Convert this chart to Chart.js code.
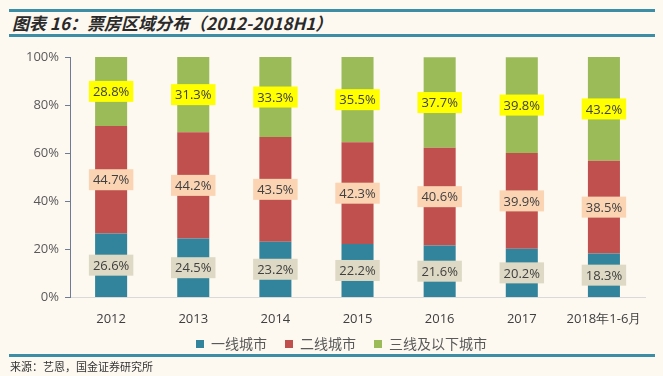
<!DOCTYPE html>
<html>
<head>
<meta charset="utf-8">
<script src="https://cdn.jsdelivr.net/npm/chart.js@4/dist/chart.umd.min.js"></script>
<style>
  html, body { margin: 0; padding: 0; background: #fdf9f1; }
  body { width: 663px; height: 376px; position: relative; overflow: hidden; font-family: "Noto Sans CJK SC", sans-serif; }
  .line { position: absolute; left: 9px; width: 646px; height: 3px; background: #3b8ea5; }
  #title { position: absolute; left: 12px; top: 10px; font-size: 17px; font-weight: bold; font-style: italic; color: #2a2a2a; }
  #source { position: absolute; left: 10px; top: 358px; font-size: 11px; color: #333; }
  #wrap { position: absolute; left: 0; top: 38px; width: 663px; height: 346px; }
</style>
</head>
<body>
<div id="wrap"><canvas id="myChart" width="663" height="346"></canvas></div>
<div class="line" style="top:9px"></div>
<div id="title">图表 16：票房区域分布（2012-2018H1）</div>
<div class="line" style="top:34px"></div>
<div class="line" style="top:354px"></div>
<div id="source">来源：艺恩，国金证券研究所</div>
<script>
// data
const categories = ['2012', '2013', '2014', '2015', '2016', '2017', '2018年1-6月'];
const tier1 = [26.6, 24.5, 23.2, 22.2, 21.6, 20.2, 18.3];
const tier2 = [44.7, 44.2, 43.5, 42.3, 40.6, 39.9, 38.5];
const tier3 = [28.8, 31.3, 33.3, 35.5, 37.7, 39.8, 43.2];
const series_names = ['一线城市', '二线城市', '三线及以下城市'];

const bar_colors = ['#31849b', '#c0504d', '#9bbb59'];
const label_bg = ['#ddd9c4', '#fbd4b4', '#ffff00'];

// boxed value labels in the middle of each segment
const box_labels = {
    id: 'box_labels',
    afterLayout(chart) {
        // pull the legend up closer to the category labels, a bit right
        chart.legend.top -= 22;
        chart.legend.bottom -= 22;
        chart.legend.left += 9;
        chart.legend.right += 9;
    },
    afterDatasetsDraw(chart) {
        const ctx = chart.ctx;
        ctx.save();
        ctx.font = '13px "Open Sans", sans-serif';
        ctx.textAlign = 'center';
        ctx.textBaseline = 'middle';
        chart.data.datasets.forEach(function (ds, i) {
            const meta = chart.getDatasetMeta(i);
            meta.data.forEach(function (el, j) {
                const txt = ds.data[j].toFixed(1) + '%';
                const cy = (el.y + el.base) / 2;
                const w = ctx.measureText(txt).width + 8;
                const h = 21;
                ctx.fillStyle = label_bg[i];
                ctx.fillRect(el.x - w / 2, cy - h / 2, w, h);
                ctx.fillStyle = '#404040';
                ctx.fillText(txt, el.x, cy + 1);
            });
        });
        ctx.restore();
    }
};

const ctx = document.getElementById('myChart').getContext('2d');
const myChart = new Chart(ctx, {
    type: 'bar',
    data: {
        labels: categories,
        datasets: [
            { label: series_names[0], data: tier1, backgroundColor: bar_colors[0] },
            { label: series_names[1], data: tier2, backgroundColor: bar_colors[1] },
            { label: series_names[2], data: tier3, backgroundColor: bar_colors[2] }
        ]
    },
    options: {
        responsive: false,
        animation: false,
        layout: { padding: { left: 20, right: 18, top: 19, bottom: 1 } },
        datasets: { bar: { categoryPercentage: 1.0, barPercentage: 0.39 } },
        scales: {
            x: {
                stacked: true,
                grid: { display: false, drawTicks: false },
                border: { color: '#d9d9d9' },
                ticks: { color: '#404040', font: { size: 13, family: '"Open Sans", sans-serif' }, padding: 14, maxRotation: 0 }
            },
            y: {
                stacked: true,
                min: 0,
                max: 100,
                grid: { display: true, drawOnChartArea: false, drawTicks: true, tickLength: 5, color: '#6b7c93' },
                border: { color: '#6b7c93' },
                ticks: {
                    stepSize: 20,
                    color: '#595959',
                    padding: 6,
                    font: { size: 13, family: '"Open Sans", sans-serif' },
                    callback: function (value) { return value + '%'; }
                }
            }
        },
        plugins: {
            legend: {
                position: 'bottom',
                labels: {
                    boxWidth: 8,
                    boxHeight: 8,
                    padding: 18,
                    color: '#595959',
                    font: { size: 14, family: '"Noto Sans CJK SC", sans-serif' }
                }
            },
            tooltip: { enabled: false }
        }
    },
    plugins: [box_labels]
});
</script>
</body>
</html>
